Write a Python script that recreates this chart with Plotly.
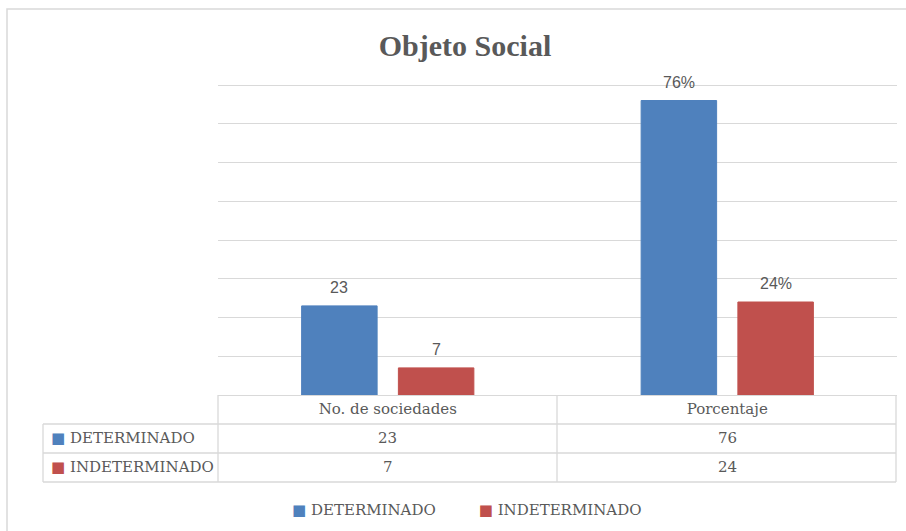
import plotly.graph_objects as go

# datos del gráfico
categorias = ['No. de sociedades', 'Porcentaje']
determinado = [23, 76]
indeterminado = [7, 24]
series = ['DETERMINADO', 'INDETERMINADO']
colores = ['#4f81bd', '#c0504d']
sufijos = ['', '%']

W, H = 906, 531
L, R, T, B = 218, 9, 81, 136
PW, PH = W - L - R, H - T - B
PX_POR_UNIDAD = 310 / 80
BARGAP = 0.43


def px_x(x):
    return (x - L) / PW


def px_y(y):
    return (H - B - y) / PH


fig = go.Figure()
for nombre, valores, color in zip(series, [determinado, indeterminado], colores):
    fig.add_trace(go.Bar(name=nombre, x=categorias, y=valores, showlegend=False,
                         marker=dict(color=color, line=dict(color=color, width=1))))

gris = '#595959'
borde = '#d9d9d9'
serif = 'DejaVu Serif'
anots = []

# etiquetas de datos sobre las barras
desp = (1 - BARGAP) / 4
for k, valores in enumerate([determinado, indeterminado]):
    for i, v in enumerate(valores):
        anots.append(dict(x=i + (2 * k - 1) * desp, y=v, xref='x', yref='y',
                          text=f'{v}{sufijos[i]}', showarrow=False, yanchor='bottom',
                          yshift=8, font=dict(family='Liberation Sans', size=16, color=gris)))

# tabla de datos bajo el eje
filas_y = [438, 467]
for k, (nombre, valores, color) in enumerate(zip(series, [determinado, indeterminado], colores)):
    anots.append(dict(x=px_x(49), y=px_y(filas_y[k]), xref='paper', yref='paper',
                      xanchor='left', yanchor='middle', showarrow=False,
                      text=f"<span style='color:{color}'>■</span> {nombre}",
                      font=dict(family=serif, size=15, color=gris)))
    for i, v in enumerate(valores):
        anots.append(dict(x=i, y=px_y(filas_y[k]), xref='x', yref='paper',
                          yanchor='middle', showarrow=False, text=str(v),
                          font=dict(family=serif, size=15, color=gris)))

# leyenda
leyenda = '         '.join(f"<span style='color:{c}'>■</span> {n}" for n, c in zip(series, colores))
anots.append(dict(x=px_x(466), y=px_y(510), xref='paper', yref='paper', showarrow=False,
                  yanchor='middle', text=leyenda, font=dict(family=serif, size=15, color=gris)))

formas = []
linea = dict(color=borde, width=1.3)
for y in [424, 453, 482]:
    formas.append(dict(type='line', xref='paper', yref='paper', x0=px_x(43), x1=px_x(896),
                       y0=px_y(y), y1=px_y(y), line=linea))
for x in [218, 557, 896]:
    formas.append(dict(type='line', xref='paper', yref='paper', x0=px_x(x), x1=px_x(x),
                       y0=px_y(395), y1=px_y(482), line=linea))
formas.append(dict(type='line', xref='paper', yref='paper', x0=px_x(43), x1=px_x(43),
                   y0=px_y(424), y1=px_y(482), line=linea))
# marco exterior
formas.append(dict(type='rect', xref='paper', yref='paper', x0=px_x(7), x1=px_x(915),
                   y0=px_y(9), y1=px_y(545), line=dict(color=borde, width=1.5)))

fig.update_layout(
    width=W, height=H,
    margin=dict(l=L, r=R, t=T, b=B),
    paper_bgcolor='white', plot_bgcolor='white',
    title=dict(text='<b>Objeto Social</b>', x=465 / W, xref='container', xanchor='center',
               y=1 - 45 / H, yanchor='middle',
               font=dict(family='Liberation Serif', size=30, color=gris)),
    barmode='group', bargap=BARGAP, bargroupgap=0.22,
    annotations=anots, shapes=formas,
    xaxis=dict(showline=True, linecolor=borde, linewidth=1.3, ticks='',
               tickfont=dict(family=serif, size=15, color=gris), showgrid=False),
    yaxis=dict(range=[0, PH / PX_POR_UNIDAD], dtick=10, showticklabels=False, showgrid=True,
               gridcolor=borde, gridwidth=1.3, zeroline=False, showline=False),
)

fig.write_html('out.html', config={'displayModeBar': False},
               post_script="document.body.style.margin='0';")
